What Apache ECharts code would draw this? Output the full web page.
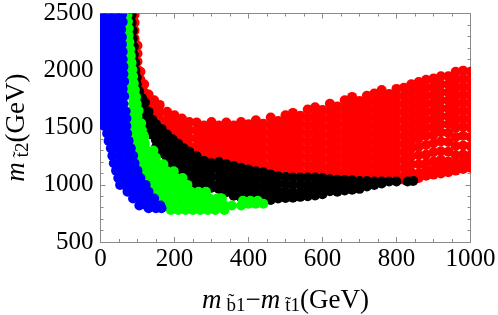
<!DOCTYPE html>
<html><head><meta charset="utf-8">
<style>html,body{margin:0;padding:0;background:#fff}#c{width:498px;height:315px}</style>
<script src="https://cdn.jsdelivr.net/npm/echarts@6/dist/echarts.min.js"></script>
</head><body><div id="c"></div>
<script>
const xTicks=[0,200,400,600,800,1000];
const yTicks=[500,1000,1500,2000,2500];
// each row: x, then the y values read at that x
const redColumns=[
[92,2490,2420,2350,2280],[100,2220,2150,2080,2010],[108,1990,1920,1850],[118,1880,1810,1740],
[130,1790,1720,1650],[145,1740,1670,1600],[160,1700,1630,1560,1490],[180,1640,1570,1500,1430],
[200,1610,1540,1470,1400,1330],[220,1580,1510,1440,1370,1300],[240,1550,1480,1410,1340,1270],
[260,1545,1475,1405,1335,1265],[280,1520,1450,1380,1310,1240],[300,1550,1480,1410,1340,1270,1210],
[320,1520,1450,1380,1310,1240,1180],[340,1545,1475,1405,1335,1265,1195],[360,1520,1450,1380,1310,1240,1170],
[380,1550,1480,1410,1340,1270,1200,1140],[400,1530,1460,1390,1320,1250,1180,1120],
[420,1565,1495,1425,1355,1285,1215,1145],[440,1535,1465,1395,1325,1255,1185,1120],
[460,1590,1520,1450,1380,1310,1240,1170,1100],[480,1560,1490,1420,1350,1280,1210,1140,1080],
[500,1610,1540,1470,1400,1330,1260,1190,1120,1075],[520,1630,1560,1490,1420,1350,1280,1210,1140,1080],
[540,1605,1535,1465,1395,1325,1255,1185,1115],[560,1660,1590,1520,1450,1380,1310,1240,1170,1100],
[580,1680,1610,1540,1470,1400,1330,1260,1190,1120],[600,1655,1585,1515,1445,1375,1305,1235,1165,1095],
[620,1710,1640,1570,1500,1430,1360,1290,1220,1150,1080],[640,1685,1615,1545,1475,1405,1335,1265,1195,1125,1065],
[660,1740,1670,1600,1530,1460,1390,1320,1250,1180,1110,1060],[680,1770,1700,1630,1560,1490,1420,1350,1280,1210,1140,1070],
[700,1735,1665,1595,1525,1455,1385,1315,1245,1175,1105,1050],[720,1780,1710,1640,1570,1500,1430,1360,1290,1220,1150,1080],
[740,1800,1730,1660,1590,1520,1450,1380,1310,1240,1170,1100,1050],[760,1830,1760,1690,1620,1550,1480,1410,1340,1270,1200,1130,1060],
[780,1795,1725,1655,1585,1515,1445,1375,1305,1235,1165,1095,1050],[800,1840,1770,1700,1630,1560,1490,1420,1350,1280,1210,1140,1070],
[820,1850,1780,1710,1640,1570,1500,1430,1360,1290,1220,1150,1080,1045],[840,1880,1810,1740,1670,1600,1530,1460,1390,1320,1250,1180,1110,1055],
[860,1900,1830,1760,1690,1620,1550,1480,1410,1335,1260,1180,1100,1060],[880,1920,1850,1780,1710,1640,1570,1500,1430,1350,1265,1190,1130,1080],
[900,1930,1860,1790,1720,1650,1580,1510,1440,1365,1285,1205,1135,1090],[920,1950,1880,1810,1740,1670,1600,1530,1460,1380,1295,1220,1165,1100],
[940,1950,1880,1810,1740,1670,1600,1530,1455,1375,1290,1205,1150,1110],[960,1990,1920,1850,1780,1710,1640,1570,1500,1420,1340,1260,1190,1125],
[980,2000,1930,1860,1790,1720,1650,1580,1510,1430,1345,1265,1205,1140],[1000,1990,1920,1850,1780,1710,1640,1570,1500,1420,1340,1260,1200,1150]
];
const blackColumns=[
[84,2490,2420],[87,2350,2280],[90,2210,2140],[94,2070,2000],[98,1940,1880],[104,1820,1760],[112,1760,1700],
[120,1720,1650,1590],[130,1640,1570,1500],[140,1570,1500,1440],[150,1530,1460,1390,1330],[165,1490,1420,1350,1280],
[180,1440,1370,1300,1230,1170],[195,1400,1330,1260,1200,1130],[210,1360,1290,1220,1150,1090],[225,1320,1250,1180,1110,1060],
[240,1290,1220,1150,1080,1030],[260,1250,1190,1120,1050,990],[280,1210,1160,1090,1020,960],[300,1190,1140,1070,1000,975],
[320,1200,1135,1070,1005,965],[340,1180,1115,1050,985,935],[360,1165,1100,1035,970,905],[380,1150,1085,1020,955,890],
[400,1135,1070,1005,940,875],[420,1120,1055,990,925,870],[440,1110,1045,980,915,865],[460,1090,1025,960,895,868],
[480,1075,1010,945,880],[500,1070,1005,940,885],[520,1065,1000,935,888],[540,1065,1000,935,895],[560,1065,1000,940,900],
[580,1065,1005,950,908],[600,1060,1000,945,918],[620,1050,995,945],[640,1045,990,940],[660,1042,990,950],[680,1040,990,958],
[700,1035,985,965],[720,1033,985],[740,1030,1000],[760,1030,1012],[780,1030],[800,1030],[830,1030],[845,1035]
];
// each row: y, then the x values read at that y
const greenRows=[
[2490,62,73],[2430,64,74],[2370,66,76],[2310,66,76],[2250,68,78],[2190,70,80],[2130,72,82],[2070,74,84],[2010,76,86],[1950,78,88],[1890,80,90],[1830,83,93],
[1770,86,96],[1710,88,98],[1650,88,98,103],[1600,90,100],[1540,87,97,110],[1480,87,97,112],[1420,90,100,118],[1360,90,100,120],[1300,95,105,125,143],
[1240,100,110,130,150],[1180,105,115,135,155,170],[1120,110,120,140,160,180,198],[1060,115,125,145,165,185,205,222],
[1000,125,135,155,175,195,215,235],[940,135,145,165,185,205,225,245,265,285],[880,145,155,175,195,215,235,255,275,295,315,328],
[820,165,175,195,215,235,255,275,295,315,335,355,380],[780,190,210,230,250,270,290,310,335],[860,385,405,425],[835,400,420,440]
];
const blueRows=[
[2490,0,20,40,58],[2425,10,30,50,60],[2360,0,20,40,56],[2295,10,30,50,58],[2230,0,20,40,58],[2165,10,30,50,60],
[2100,0,20,40,60],[2035,10,30,50,62],[1970,0,20,40,62],[1905,10,30,50,64],[1840,0,20,40,60],[1775,10,30,50,64],
[1710,0,20,40,62],[1645,10,30,50,68],[1580,0,20,40,60,70],[1515,10,30,50,70],[1450,18,38,58,72],[1385,22,42,62,76],
[1320,28,48,68,82],[1255,32,52,72,88],[1190,36,56,76,92],[1125,42,62,82,100],[1060,48,68,88,108],[1000,53,65,85,105,122],
[940,73,95,115,130],[880,88,110,128,145],[820,105,125,145,162],[795,130,150,165]
];
const fromColumns=t=>t.flatMap(r=>r.slice(1).map(y=>[r[0],y]));
const fromRows=t=>t.flatMap(r=>r.slice(1).map(x=>[x,r[0]]));
const serif='"Liberation Serif","Times New Roman",serif';
const tickBase={show:true,inside:true,length:5,lineStyle:{color:'#8a8a8a',width:1}};
const minorBase={show:true,length:3,lineStyle:{color:'#8a8a8a',width:1}};
const lineBase={show:true,onZero:false,lineStyle:{color:'#8a8a8a',width:1}};
const rich={
 m:{fontFamily:serif,fontStyle:'italic',fontSize:27,color:'#000'},
 s:{fontFamily:serif,fontSize:19,color:'#000',padding:[12,0,0,5]},
 g:{fontFamily:serif,fontSize:27,color:'#000'}
};
const xAxisBase={type:'value',min:0,max:1000,interval:200,splitLine:{show:false},axisLine:lineBase,axisTick:tickBase,minorTick:{...minorBase,splitNumber:4}};
const yAxisBase={type:'value',min:500,max:2500,interval:500,splitLine:{show:false},axisLine:lineBase,axisTick:tickBase,minorTick:{...minorBase,splitNumber:5}};
const scatter=(name,color,data)=>({name,type:'custom',coordinateSystem:'cartesian2d',data,clip:true,silent:true,animation:false,
  encode:{x:0,y:1},
  renderItem:(params,api)=>{const p=api.coord([api.value(0),api.value(1)]);
    return {type:'circle',shape:{cx:p[0],cy:p[1],r:5},style:{fill:color}};}});
const chart=echarts.init(document.getElementById('c'),null,{renderer:'canvas'});
chart.setOption({
 animation:false,backgroundColor:'#fff',
 grid:{left:100.5,top:13.5,width:370,height:228.5,containLabel:false,outerBoundsMode:'none'},
 xAxis:[
  {...xAxisBase,position:'bottom',axisLabel:{color:'#000',fontFamily:serif,fontSize:25,margin:5,hideOverlap:false,formatter:v=>String(v)},
   name:'{m|m}{s|b\u03031}{g|\u2212}{m|m}{s|t\u03031}{g|(GeV)}',nameLocation:'middle',nameGap:43,nameTextStyle:{rich}},
  {...xAxisBase,position:'top',axisLabel:{show:false}}
 ],
 yAxis:[
  {...yAxisBase,position:'left',axisLabel:{color:'#000',fontFamily:serif,fontSize:25,margin:7,formatter:v=>String(v)},
   name:'{m|m}{s|t\u03032}{g|(GeV)}',nameLocation:'middle',nameGap:68,nameTextStyle:{rich}},
  {...yAxisBase,position:'right',axisLabel:{show:false}}
 ],
 series:[
  scatter('red','#ff0000',fromColumns(redColumns)),
  scatter('black','#000000',fromColumns(blackColumns)),
  scatter('green','#00ff00',fromRows(greenRows)),
  scatter('blue','#0000ff',fromRows(blueRows))
 ]
});
</script></body></html>
